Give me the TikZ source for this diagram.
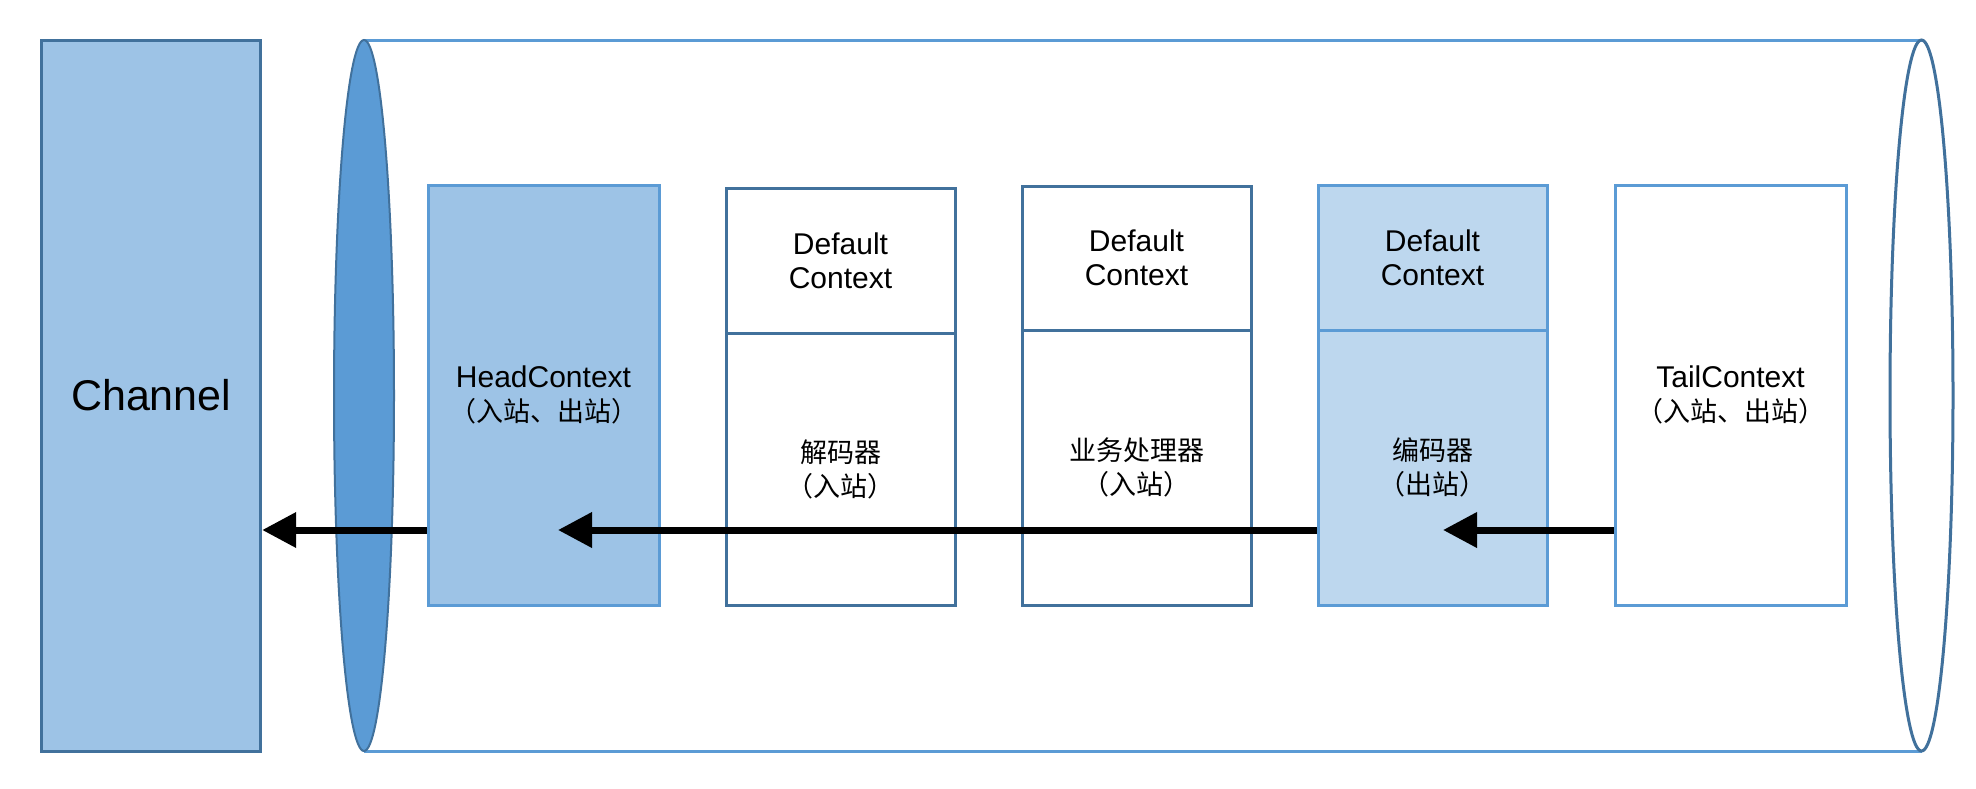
\documentclass[tikz,border=0pt]{standalone}
\usepackage{fontspec}
\setmainfont{Liberation Sans}
\newfontfamily\cjk{Noto Sans CJK SC}
\usetikzlibrary{arrows.meta}
\definecolor{dkblue}{HTML}{41719C}
\definecolor{mdblue}{HTML}{5B9BD5}
\definecolor{ltblue}{HTML}{9DC3E6}
\definecolor{plblue}{HTML}{BDD7EE}
\tikzset{
  box/.style={draw, line width=3pt, inner sep=0pt, align=center,
    font=\fontsize{30}{34}\selectfont},
  darkbox/.style={box, draw=dkblue, fill=white},
  lightbox/.style={box, draw=mdblue},
  arr/.style={line width=7pt, -{Triangle[length=34pt,width=34pt]}},
}
\newcommand{\zh}[1]{{\cjk\fontsize{27}{34}\selectfont #1}}
\begin{document}
\begin{tikzpicture}[x=1pt,y=-1pt]
\useasboundingbox[fill=white] (0,0) rectangle (1976,788);
% cylinder
\draw[mdblue, line width=3pt] (364,40) -- (1921.5,40);
\draw[mdblue, line width=3pt] (364,751) -- (1921.5,751);
\draw[dkblue, line width=3pt] (1921.5,395.5) ellipse [x radius=31.5, y radius=355.5];
\draw[dkblue, fill=mdblue, line width=2pt] (364,395.5) ellipse [x radius=30, y radius=355.5];
% channel
\node[box, draw=dkblue, fill=ltblue, minimum width=219pt, minimum height=711pt,
  font=\fontsize{43}{50}\selectfont] (chan) at (151.2,395.6) {Channel};
% head
\node[lightbox, fill=ltblue, minimum width=231pt, minimum height=420pt] (head) at (543.5,395)
  {HeadContext\\\zh{（入站、出站）}};
% decoder
\node[darkbox, minimum width=229pt, minimum height=145pt] (dectop) at (840.5,260.5) {Default\\Context};
\node[darkbox, minimum width=229pt, minimum height=272pt] (decbot) at (840.5,469) {\zh{解码器}\\\zh{（入站）}};
% business
\node[darkbox, minimum width=229pt, minimum height=143.5pt] (biztop) at (1136.5,258.25) {Default\\Context};
\node[darkbox, minimum width=229pt, minimum height=275pt] (bizbot) at (1136.5,467.5) {\zh{业务处理器}\\\zh{（入站）}};
% encoder
\node[lightbox, fill=plblue, minimum width=229pt, minimum height=145pt] (enctop) at (1432.5,257.5) {Default\\Context};
\node[lightbox, fill=plblue, minimum width=229pt, minimum height=275pt] (encbot) at (1432.5,467.5) {\zh{编码器}\\\zh{（出站）}};
% tail
\node[lightbox, fill=white, minimum width=231pt, minimum height=420pt] (tail) at (1730.5,395)
  {TailContext\\\zh{（入站、出站）}};
% arrows
\coordinate (ay) at (0,530);
\coordinate (t2) at (558,530);
\coordinate (t3) at (1443,530);
\draw[arr] (head.west |- ay) -- (chan.east |- ay);
\draw[arr] (encbot.west |- ay) -- (t2);
\draw[arr] (tail.west |- ay) -- (t3);
\end{tikzpicture}
\end{document}
